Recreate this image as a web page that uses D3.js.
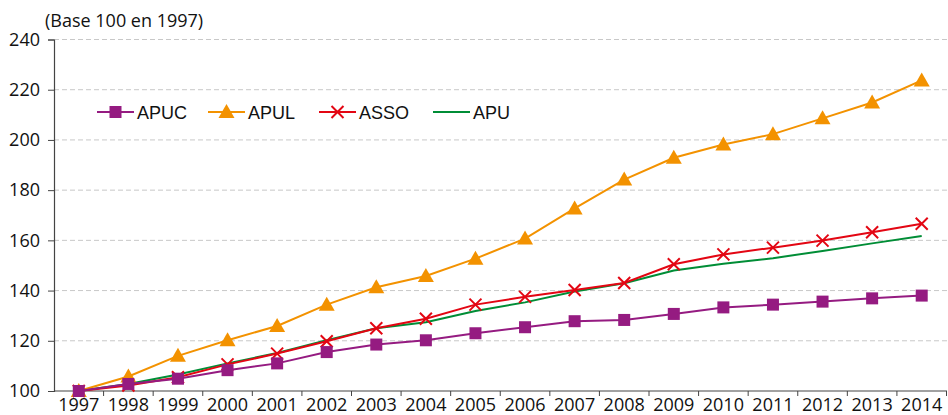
<!DOCTYPE html>
<html>
<head>
<meta charset="utf-8">
<script src="https://cdn.jsdelivr.net/npm/d3@7"></script>
<style>
  body { margin: 0; background: #fff; }
  svg { display: block; }
</style>
</head>
<body>
<div id="chart"></div>
<script>
const years = ['1997','1998','1999','2000','2001','2002','2003','2004','2005',
               '2006','2007','2008','2009','2010','2011','2012','2013','2014']
const yTicks = [100, 120, 140, 160, 180, 200, 220, 240]

const apuc = [100, 102.8, 104.9, 108.3, 111, 115.5, 118.5, 120.2, 123, 125.4,
              127.8, 128.3, 130.7, 133.3, 134.4, 135.6, 136.9, 138]
const apul = [100, 105.8, 114, 120.2, 125.9, 134.4, 141.3, 145.8, 152.7, 160.7,
              172.7, 184.2, 192.9, 198.2, 202.3, 208.6, 214.9, 223.7]
const asso = [100, 102.2, 105.5, 110.6, 114.9, 119.8, 125, 128.8, 134.4, 137.5,
              140.2, 143, 150.5, 154.4, 157.1, 159.9, 163.2, 166.6]
const apu  = [100, 102.8, 106.6, 111, 115.1, 120.2, 125, 127.4, 131.9, 135.3,
              139.6, 142.9, 148, 150.7, 152.9, 155.8, 158.8, 161.7]

const W = 948, H = 415
const margin = {left: 54, right: 1, top: 39.5, bottom: 24}

const series = [
  {name: 'APUC', values: apuc, color: '#951b81', marker: 'square'},
  {name: 'APUL', values: apul, color: '#f39200', marker: 'triangle'},
  {name: 'ASSO', values: asso, color: '#e30613', marker: 'cross'},
  {name: 'APU',  values: apu,  color: '#008d36', marker: 'none'}
]

const svg = d3.select('#chart').append('svg')
  .attr('width', W).attr('height', H)

const x = d3.scaleBand().domain(years)
  .range([margin.left, W - margin.right - 0.5])

const y = d3.scaleLinear().domain([100, 240])
  .range([H - margin.bottom, margin.top])

const axisFont = '"Open Sans", "DejaVu Sans", sans-serif'
const axisSize = 18

// grid lines
svg.append('g').selectAll('line')
  .data(yTicks.filter(d => d > 100)).enter().append('line')
  .attr('x1', margin.left).attr('x2', W - margin.right)
  .attr('y1', d => y(d)).attr('y2', d => y(d))
  .attr('stroke', '#c8c8c8').attr('stroke-width', 1)
  .attr('stroke-dasharray', '5,3')

// y axis
const yAxis = svg.append('g')
  .attr('transform', `translate(${margin.left},0)`)
  .call(d3.axisLeft(y).tickValues(yTicks).tickSize(6).tickPadding(8))
yAxis.select('.domain').attr('stroke', '#444').attr('stroke-width', 1.2)
yAxis.selectAll('.tick line').attr('stroke', '#444')
yAxis.selectAll('text').attr('font-family', axisFont).attr('font-size', axisSize)
  .attr('fill', '#111')

// x axis, ticks on category boundaries
const xg = svg.append('g')
  .attr('transform', `translate(0,${y(100)})`)
xg.append('line')
  .attr('x1', margin.left).attr('x2', W - margin.right)
  .attr('stroke', '#444').attr('stroke-width', 1.2)
xg.selectAll('.tk').data(years).enter().append('line')
  .attr('class', 'tk')
  .attr('x1', d => x(d) + x.bandwidth()).attr('x2', d => x(d) + x.bandwidth())
  .attr('y1', 0).attr('y2', 5)
  .attr('stroke', '#444')
xg.selectAll('text').data(years).enter().append('text')
  .attr('x', d => x(d) + x.bandwidth() / 2)
  .attr('y', 19.5)
  .attr('text-anchor', 'middle')
  .attr('font-family', axisFont).attr('font-size', axisSize).attr('fill', '#111')
  .text(d => d)

svg.append('text')
  .attr('x', 45).attr('y', 27)
  .attr('font-family', axisFont).attr('font-size', axisSize).attr('fill', '#111')
  .text('(Base 100 en 1997)')

const cx = i => x(years[i]) + x.bandwidth() / 2

function drawMarker(g, type, color) {
  if (type === 'square') {
    g.append('rect').attr('x', -6).attr('y', -6).attr('width', 12).attr('height', 12)
      .attr('fill', color)
  } else if (type === 'triangle') {
    g.append('path').attr('d', 'M0,-8L8,6L-8,6Z').attr('fill', color)
  } else if (type === 'cross') {
    g.append('path').attr('d', 'M-6,-6L6,6M-6,6L6,-6')
      .attr('stroke', color).attr('stroke-width', 2).attr('fill', 'none')
  }
}

const line = d3.line().x((d, i) => cx(i)).y(d => y(d))

// draw in reverse so APUC sits on top
series.slice().reverse().forEach(s => {
  svg.append('path').datum(s.values)
    .attr('d', line)
    .attr('fill', 'none').attr('stroke', s.color).attr('stroke-width', 2)
  s.values.forEach((v, i) => {
    const g = svg.append('g').attr('transform', `translate(${cx(i)},${y(v)})`)
    drawMarker(g, s.marker, s.color)
  })
})

// legend
const legX = [97, 208, 319, 433]
series.forEach((s, i) => {
  const g = svg.append('g').attr('transform', `translate(${legX[i]},112)`)
  g.append('line').attr('x1', 0).attr('x2', 37)
    .attr('stroke', s.color).attr('stroke-width', 2)
  const m = g.append('g').attr('transform', 'translate(18.5,0)')
  drawMarker(m, s.marker, s.color)
  g.append('text').attr('x', 40).attr('y', 6.5)
    .attr('font-family', '"Liberation Sans", Arial, sans-serif')
    .attr('font-size', 18).attr('fill', '#111')
    .text(s.name)
})
</script>
</body>
</html>
